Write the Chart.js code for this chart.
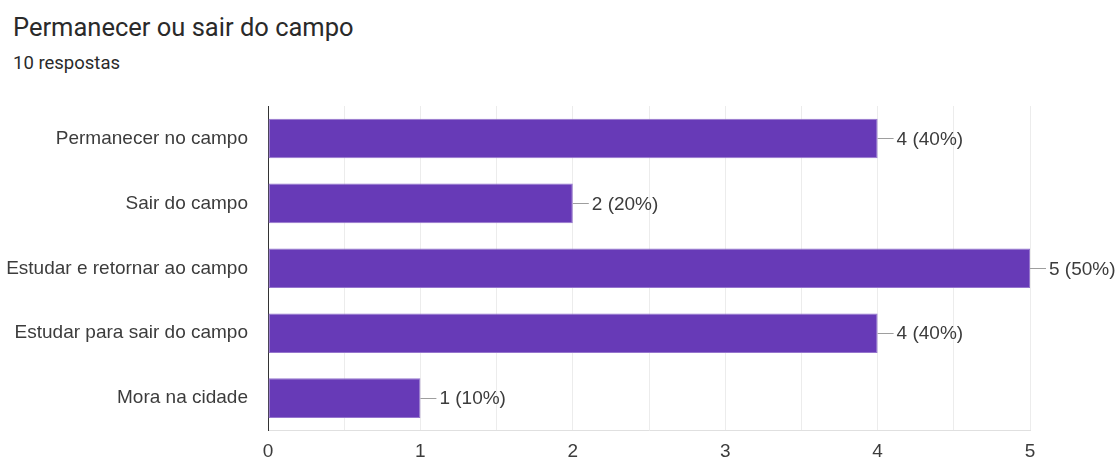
<!DOCTYPE html>
<html>
<head>
<meta charset="utf-8">
<script src="https://cdn.jsdelivr.net/npm/chart.js@4/dist/chart.umd.min.js"></script>
<style>
  html, body { margin: 0; padding: 0; background: #fff; }
  body { width: 1118px; height: 462px; position: relative; overflow: hidden; font-family: Roboto, Arial, sans-serif; }
  #titulo { position: absolute; left: 13px; top: 12px; font-size: 25.5px; color: #2a2a2a; white-space: nowrap; }
  #subtitulo { position: absolute; left: 13px; top: 52px; font-size: 18.5px; color: #2a2a2a; white-space: nowrap; }
  #grafico { position: absolute; left: 0; top: 0; }
</style>
</head>
<body>
<div id="titulo">Permanecer ou sair do campo</div>
<div id="subtitulo">10 respostas</div>
<canvas id="grafico" width="1118" height="462"></canvas>
<script>
// Respostas do formulário
const opcoes = ['Permanecer no campo', 'Sair do campo', 'Estudar e retornar ao campo', 'Estudar para sair do campo', 'Mora na cidade'];
const respostas = [4, 2, 5, 4, 1];
const totalRespostas = 10;
const ticksX = [0, 1, 2, 3, 4, 5];

const fonte = '"Liberation Sans", Arial, sans-serif';

// rótulo "n (p%)" com tracinho na ponta de cada barra
const rotulosBarras = {
    id: 'rotulosBarras',
    afterDatasetsDraw(chart) {
        const ctx = chart.ctx;
        const meta = chart.getDatasetMeta(0);
        ctx.save();
        ctx.font = '19px ' + fonte;
        ctx.textBaseline = 'middle';
        meta.data.forEach((bar, i) => {
            const v = respostas[i];
            const pct = Math.round(v / totalRespostas * 100);
            ctx.strokeStyle = '#9e9e9e';
            ctx.lineWidth = 1;
            ctx.beginPath();
            ctx.moveTo(bar.x, Math.round(bar.y) + 0.5);
            ctx.lineTo(bar.x + 16, Math.round(bar.y) + 0.5);
            ctx.stroke();
            ctx.fillStyle = '#3c3c3c';
            ctx.fillText(v + ' (' + pct + '%)', bar.x + 19, bar.y + 1);
        });
        ctx.restore();
    }
};

new Chart(document.getElementById('grafico'), {
    type: 'bar',
    data: {
        labels: opcoes,
        datasets: [{
            data: respostas,
            backgroundColor: '#673ab7',
            borderColor: '#9575cd',
            borderWidth: 1,
            borderSkipped: false,
            barPercentage: 0.61,
            categoryPercentage: 1
        }]
    },
    options: {
        indexAxis: 'y',
        responsive: false,
        animation: false,
        layout: { padding: { top: 106, right: 88, bottom: 0, left: 0 } },
        plugins: { legend: { display: false }, tooltip: { enabled: false } },
        scales: {
            x: {
                min: 0,
                max: 5,
                afterFit: s => { s.height = 28; },
                afterBuildTicks: s => {
                    const t = [];
                    for (let k = 0; k <= 10; k++) t.push({ value: k / 2 });
                    s.ticks = t;
                },
                ticks: {
                    padding: 10,
                    color: '#3c3c3c',
                    font: { family: fonte, size: 19 },
                    autoSkip: false,
                    maxRotation: 0,
                    callback: v => ticksX.includes(v) ? String(v) : ''
                },
                grid: { color: '#ececec', drawTicks: false },
                border: { color: '#e0e0e0' }
            },
            y: {
                afterFit: s => { s.width = 268; },
                ticks: {
                    padding: 20,
                    color: '#3c3c3c',
                    font: { family: fonte, size: 19 }
                },
                grid: { drawOnChartArea: false, drawTicks: false },
                border: { color: '#333', width: 1 }
            }
        }
    },
    plugins: [rotulosBarras]
});
</script>
</body>
</html>
